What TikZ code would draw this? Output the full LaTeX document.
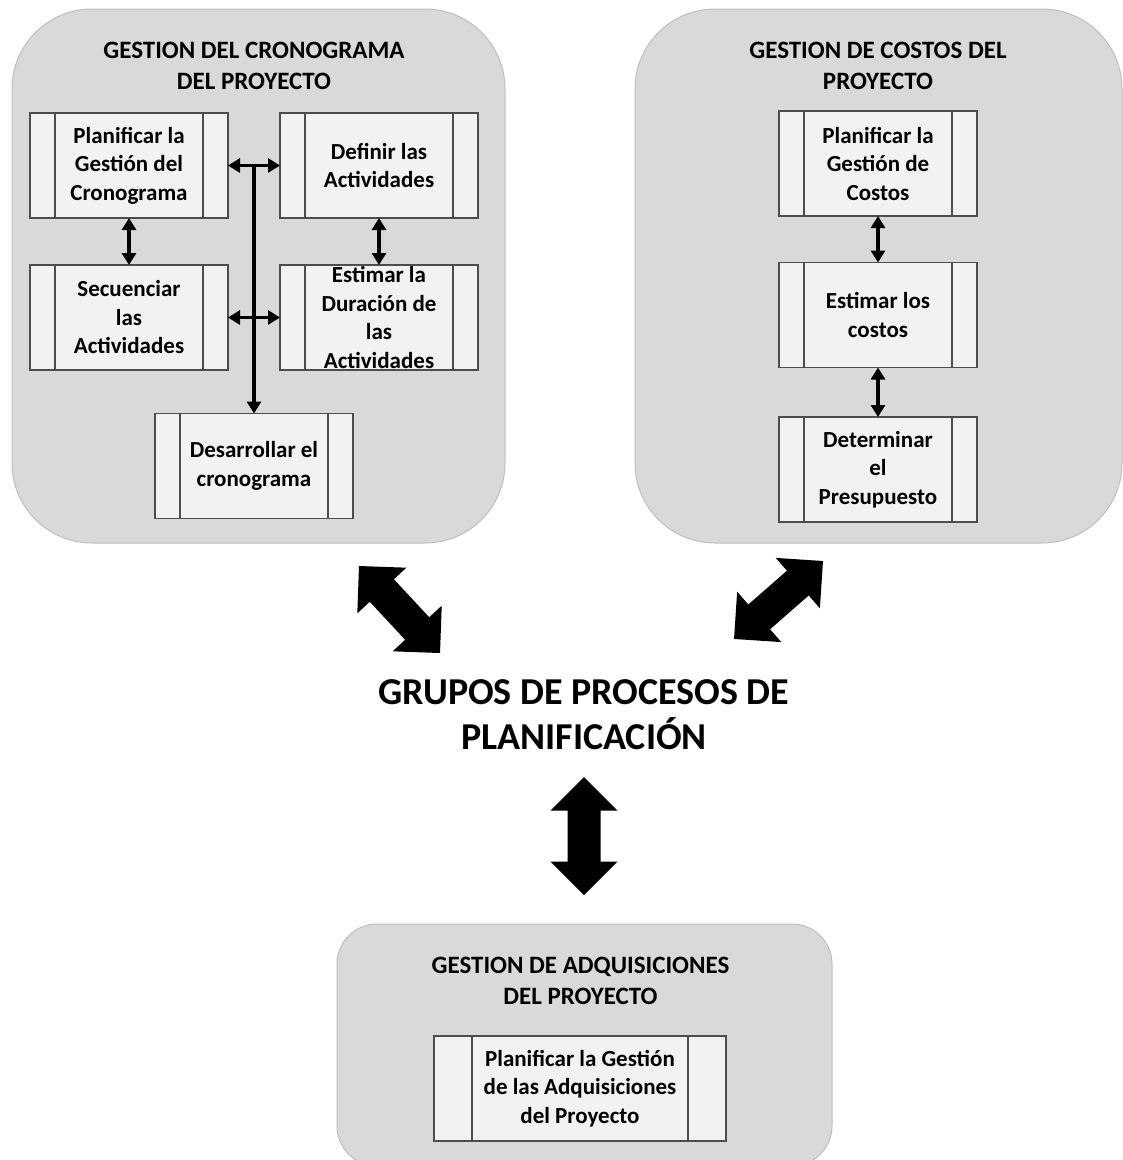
\documentclass[tikz,border=0pt]{standalone}
\usepackage{fontspec}
\setmainfont{Carlito}
\usetikzlibrary{arrows.meta,calc}
\definecolor{panelfill}{HTML}{D9D9D9}
\definecolor{panelborder}{HTML}{BFBFBF}
\definecolor{boxfill}{HTML}{F2F2F2}
\definecolor{boxborder}{HTML}{4D4D4D}
\newcommand\bigdarrow[3]{%
  \fill[black,shift={(#1)},rotate=#2] (0,0) -- (33.5,33.5) -- (33.5,16.5) -- (#3-33.5,16.5) -- (#3-33.5,33.5) -- (#3,0)
    -- (#3-33.5,-33.5) -- (#3-33.5,-16.5) -- (33.5,-16.5) -- (33.5,-33.5) -- cycle;}
\begin{document}
\begin{tikzpicture}[x=1pt,y=-1pt,
  panel/.style={draw=panelborder,fill=panelfill,line width=1pt,rounded corners=#1,inner sep=0pt,outer sep=0pt},
  ttl/.style={font=\fontsize{25}{31}\selectfont\bfseries,align=center,inner sep=0pt},
  bigttl/.style={font=\fontsize{38}{45}\selectfont\bfseries,align=center,inner sep=0pt},
  barw/.store in=\barw, barw=25pt,
  proc/.style={draw=boxborder,fill=boxfill,line width=1.3pt,minimum width=198pt,minimum height=105pt,
    inner sep=0pt,outer sep=0pt,align=center,font=\fontsize{23}{28.5}\selectfont\bfseries,
    path picture={\draw[boxborder,line width=1.3pt]
      ([xshift=\barw]path picture bounding box.north west) -- ([xshift=\barw]path picture bounding box.south west)
      ([xshift=-\barw]path picture bounding box.north east) -- ([xshift=-\barw]path picture bounding box.south east);}},
  smallarr/.style={line width=3.5pt,{Triangle[width=14pt,length=12pt]}-{Triangle[width=14pt,length=12pt]}},
  downarr/.style={line width=3.5pt,-{Triangle[width=14pt,length=12pt]}}
]
\useasboundingbox (0,0) rectangle (1123,1160);
\clip (0,0) rectangle (1123,1160);
\fill[white] (0,0) rectangle (1123,1160);

% panels
\node[panel=80pt,minimum width=493pt,minimum height=534pt] (pL) at (258.5,276) {};
\node[panel=80pt,minimum width=487pt,minimum height=534pt] (pR) at (878.5,276) {};
\node[panel=40pt,minimum width=495pt,minimum height=242pt] (pB) at (584.5,1045) {};

% titles
\node[ttl] (tL) at (254,65.5) {GESTION DEL CRONOGRAMA\\DEL PROYECTO};
\node[ttl] (tR) at (878,65.5) {GESTION DE COSTOS DEL\\PROYECTO};
\node[ttl] (tB) at (580.5,981) {GESTION DE ADQUISICIONES\\DEL PROYECTO};
\node[bigttl] (g) at (584,714.5) {GRUPOS DE PROCESOS DE\\PLANIFICACIÓN};

% left panel processes
\node[proc] (p1) at (129,165.5) {Planificar la\\Gestión del\\Cronograma};
\node[proc] (p2) at (379,165.5) {Definir las\\Actividades};
\node[proc] (p3) at (129,317.5) {Secuenciar\\las\\Actividades};
\node[proc] (p4) at (379,317.5) {Estimar la\\Duración de\\las\\Actividades};
\node[proc] (p5) at (254,466) {Desarrollar el\\cronograma};

% right panel processes
\node[proc] (c1) at (878,163.5) {Planificar la\\Gestión de\\Costos};
\node[proc] (c2) at (878,315) {Estimar los\\costos};
\node[proc] (c3) at (878,469.5) {Determinar\\el\\Presupuesto};

% bottom panel process
\node[proc,barw=38pt,minimum width=292pt] (b1) at (580,1088.5) {Planificar la Gestión\\de las Adquisiciones\\del Proyecto};

% small connectors
\draw[smallarr] (p1.south) -- (p3.north);
\draw[smallarr] (p2.south) -- (p4.north);
\draw[smallarr] (p1.east) -- (p2.west);
\draw[smallarr] (p3.east) -- (p4.west);
\coordinate (hub) at ($(p1.east)!0.5!(p2.west)$);
\draw[downarr] (hub) -- (p5.north);
\draw[smallarr] (c1.south) -- (c2.north);
\draw[smallarr] (c2.south) -- (c3.north);

% big double arrows
\coordinate (a1) at (359,566);
\coordinate (a2) at (823,561);
\coordinate (a3) at (584,777);
\bigdarrow{a1}{-47.04}{118.9}
\bigdarrow{a2}{-138.77}{118.3}
\bigdarrow{a3}{-90}{118}
\end{tikzpicture}
\end{document}
